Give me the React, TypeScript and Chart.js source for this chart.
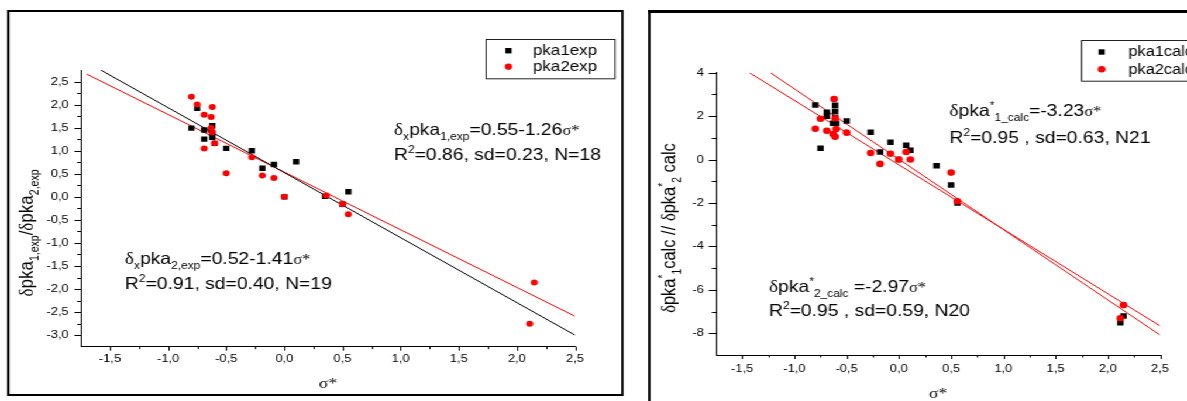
import React, { useEffect, useRef } from 'react';
import { Chart, registerables } from 'chart.js';
Chart.register(...registerables);

const SX = 1.17; // horizontal stretch of the original figure
const PAGE_W = 1187;
const PAGE_H = 401;
const LW = PAGE_W / SX;
const SPLIT = 545;
const RIGHT_W = 470;

// ---------- left panel: experimental ----------
const sigma1Exp = [-0.80, -0.75, -0.69, -0.69, -0.62, -0.62, -0.62, -0.60, -0.50, -0.28, -0.19, -0.09, 0.10, 0.35, 0.55, 0.00, 0.50, -0.63];
const pka1Exp = [1.49, 1.92, 1.45, 1.25, 1.54, 1.38, 1.29, 1.16, 1.05, 1.00, 0.62, 0.70, 0.76, 0.01, 0.11, 0.00, -0.16, 1.45];
const sigma2Exp = [-0.80, -0.75, -0.62, -0.69, -0.63, -0.63, -0.62, -0.60, -0.69, -0.28, -0.50, -0.19, -0.09, 0.00, 0.36, 0.50, 0.55, 2.11, 2.15];
const pka2Exp = [2.17, 2.00, 1.95, 1.78, 1.73, 1.49, 1.40, 1.16, 1.05, 0.86, 0.51, 0.46, 0.41, 0.00, 0.03, -0.16, -0.38, -2.75, -1.86];
const fitExpBlackX = [-1.58, 2.5];
const fitExpBlackY = [2.75, -3.0];
const fitExpRedX = [-1.70, 2.5];
const fitExpRedY = [2.66, -2.59];
const expXTicks = [-1.5, -1.0, -0.5, 0.0, 0.5, 1.0, 1.5, 2.0, 2.5];
const expXMinor = [-1.25, -0.75, -0.25, 0.25, 0.75, 1.25, 1.75, 2.25];
const expYTicks = [2.5, 2.0, 1.5, 1.0, 0.5, 0.0, -0.5, -1.0, -1.5, -2.0, -2.5, -3.0];
const expYMinor = [2.25, 1.75, 1.25, 0.75, 0.25, -0.25, -0.75, -1.25, -1.75, -2.25, -2.75];

// ---------- right panel: calculated ----------
const sigma1Calc = [-0.80, -0.61, -0.61, -0.69, -0.69, -0.61, -0.60, -0.63, -0.50, -0.75, -0.27, -0.18, -0.08, 0.07, 0.11, 0.00, 0.36, 0.50, 0.56, 2.12, 2.15];
const pka1Calc = [2.51, 2.50, 2.22, 2.18, 2.00, 1.95, 1.67, 1.67, 1.78, 0.52, 1.26, 0.35, 0.80, 0.66, 0.43, 0.00, -0.28, -1.17, -2.00, -7.51, -7.20];
const sigma2Calc = [-0.62, -0.75, -0.61, -0.80, -0.69, -0.60, -0.63, -0.61, -0.50, -0.27, -0.18, -0.08, 0.00, 0.07, 0.11, 0.50, 0.56, 2.12, 2.15];
const pka2Calc = [2.79, 1.88, 1.90, 1.42, 1.33, 1.41, 1.18, 1.05, 1.24, 0.30, -0.20, 0.27, 0.00, 0.35, 0.00, -0.60, -1.92, -7.31, -6.70];
const fitCalcAX = [-1.43, 2.5];
const fitCalcAY = [4.0, -7.66];
const fitCalcBX = [-1.23, 2.5];
const fitCalcBY = [4.0, -8.08];
const calcXTicks = [-1.5, -1.0, -0.5, 0.0, 0.5, 1.0, 1.5, 2.0, 2.5];
const calcXMinor = [-1.25, -0.75, -0.25, 0.25, 0.75, 1.25, 1.75, 2.25];
const calcYTicks = [4, 2, 0, -2, -4, -6, -8];
const calcYMinor = [3, 1, -1, -3, -5, -7];

const FONT_SANS = '"Liberation Sans", Arial, Helvetica, sans-serif';
const FONT_SERIF = '"Liberation Serif", "Times New Roman", serif';

type Seg = { t: string; k?: 'sub' | 'sup'; serif?: boolean; small?: boolean };

function segFont(s: Seg, base: number) {
  const size = base * (s.k ? 0.62 : 1) * (s.small ? 0.85 : 1);
  return `${size}px ${s.serif ? FONT_SERIF : FONT_SANS}`;
}
function measureRich(ctx: CanvasRenderingContext2D, segs: Seg[], base: number) {
  let w = 0;
  for (const s of segs) {
    ctx.font = segFont(s, base);
    w += ctx.measureText(s.t).width;
  }
  return w;
}
function drawRich(ctx: CanvasRenderingContext2D, x: number, y: number, segs: Seg[], base: number) {
  ctx.fillStyle = '#000';
  ctx.textBaseline = 'alphabetic';
  ctx.textAlign = 'left';
  let cx = x;
  for (const s of segs) {
    ctx.font = segFont(s, base);
    const dy = s.k === 'sub' ? base * 0.3 : s.k === 'sup' ? -base * 0.42 : 0;
    ctx.fillText(s.t, cx, y + dy);
    cx += ctx.measureText(s.t).width;
  }
}

const pts = (xs: number[], ys: number[]) => xs.map((x, i) => ({ x, y: ys[i] }));
const fmtComma = (v: number) => v.toFixed(1).replace('.', ',');
const fmtInt = (v: number) => String(Math.round(v));

interface LegendItem { label: string; y: number; style: 'rect' | 'circle'; color: string; size: number }
interface PanelCfg {
  xMinor: number[];
  yMinor: number[];
  xMajorLen: number; xMinorLen: number; yMajorLen: number; yMinorLen: number;
  yTitle: Seg[]; yTitleSize: number; yTitleX: number; yTitleY: number;
  xTitleY: number;
  notes: { x: number; y: number; segs: Seg[]; size: number }[];
  legendBox: [number, number, number, number];
  legendMarkerX: number; legendTextX: number; legendFont: number;
  legendItems: LegendItem[];
}

function panelPlugin(cfg: PanelCfg) {
  return {
    id: 'panelDecor',
    afterDraw(chart: any) {
      const ctx: CanvasRenderingContext2D = chart.ctx;
      const a = chart.chartArea;
      const xs = chart.scales.x;
      const ys = chart.scales.y;
      ctx.save();
      // tick marks
      ctx.strokeStyle = '#000';
      ctx.lineWidth = 1;
      ctx.beginPath();
      const xMaj = xs.ticks.map((t: any) => t.value);
      const yMaj = ys.ticks.map((t: any) => t.value);
      for (const v of xMaj) {
        const p = Math.round(xs.getPixelForValue(v)) + 0.5;
        ctx.moveTo(p, a.bottom); ctx.lineTo(p, a.bottom + cfg.xMajorLen);
      }
      for (const v of cfg.xMinor) {
        const p = Math.round(xs.getPixelForValue(v)) + 0.5;
        ctx.moveTo(p, a.bottom); ctx.lineTo(p, a.bottom + cfg.xMinorLen);
      }
      for (const v of yMaj) {
        const p = Math.round(ys.getPixelForValue(v)) + 0.5;
        ctx.moveTo(a.left, p); ctx.lineTo(a.left - cfg.yMajorLen, p);
      }
      for (const v of cfg.yMinor) {
        const p = Math.round(ys.getPixelForValue(v)) + 0.5;
        ctx.moveTo(a.left, p); ctx.lineTo(a.left - cfg.yMinorLen, p);
      }
      ctx.stroke();

      // x title
      const xt: Seg[] = [{ t: 'σ*', serif: true }];
      const xw = measureRich(ctx, xt, 15);
      drawRich(ctx, (a.left + a.right) / 2 - xw / 2, cfg.xTitleY, xt, 15);

      // y title (rotated)
      ctx.save();
      ctx.translate(cfg.yTitleX, cfg.yTitleY);
      ctx.rotate(-Math.PI / 2);
      const yw = measureRich(ctx, cfg.yTitle, cfg.yTitleSize);
      drawRich(ctx, -yw / 2, cfg.yTitleSize * 0.36, cfg.yTitle, cfg.yTitleSize);
      ctx.restore();

      // annotations
      for (const n of cfg.notes) drawRich(ctx, n.x, n.y, n.segs, n.size);

      // legend
      const [bx, by, bw, bh] = cfg.legendBox;
      ctx.strokeStyle = '#222';
      ctx.lineWidth = 1;
      ctx.strokeRect(Math.round(bx) + 0.5, Math.round(by) + 0.5, bw, bh);
      for (const it of cfg.legendItems) {
        ctx.fillStyle = it.color;
        if (it.style === 'rect') {
          ctx.fillRect(cfg.legendMarkerX - it.size / 2, it.y - it.size / 2, it.size, it.size);
        } else {
          ctx.beginPath();
          ctx.arc(cfg.legendMarkerX, it.y, it.size, 0, Math.PI * 2);
          ctx.fill();
        }
        ctx.fillStyle = '#000';
        ctx.font = `${cfg.legendFont}px ${FONT_SANS}`;
        ctx.textBaseline = 'middle';
        ctx.textAlign = 'left';
        ctx.fillText(it.label, cfg.legendTextX, it.y + 0.5);
      }
      ctx.restore();
    },
  };
}

function scaleOpts(min: number, max: number, ticks: number[], fmt: (v: number) => string, pad: number, isX: boolean) {
  return {
    type: 'linear' as const,
    min,
    max,
    afterBuildTicks: (s: any) => { s.ticks = ticks.map((v) => ({ value: v })); },
    afterFit: (s: any) => { if (isX) s.height = 30; else s.width = 45; },
    grid: { display: false, drawTicks: false },
    border: { display: true, color: '#000', width: 1 },
    ticks: {
      padding: pad,
      color: '#000',
      autoSkip: false,
      maxRotation: 0,
      minRotation: 0,
      font: { family: FONT_SANS, size: 11 },
      callback: (v: any) => fmt(Number(v)),
    },
  };
}

function makeConfig(opts: {
  d1: { x: number; y: number }[]; d2: { x: number; y: number }[];
  l1: { x: number; y: number }[]; l2: { x: number; y: number }[];
  l1Color: string; l2Color: string;
  sq: number; ci: number;
  xMin: number; xMax: number; yMin: number; yMax: number;
  xTicks: number[]; yTicks: number[]; xFmt: (v: number) => string; yFmt: (v: number) => string;
  xPad: number; yPad: number;
  padding: { left: number; right: number; top: number; bottom: number };
  label1: string; label2: string;
  cfg: PanelCfg;
}): any {
  return {
    type: 'scatter',
    data: {
      datasets: [
        { label: opts.label1, data: opts.d1, pointStyle: 'rect', pointRadius: opts.sq, backgroundColor: '#000', borderColor: '#000', borderWidth: 0, order: 2 },
        { label: opts.label2, data: opts.d2, pointStyle: 'circle', pointRadius: opts.ci, backgroundColor: '#ff0000', borderColor: '#ff0000', borderWidth: 0, order: 1 },
        { label: 'fit a', data: opts.l1, showLine: true, pointRadius: 0, borderColor: opts.l1Color, borderWidth: 1, order: 3 },
        { label: 'fit b', data: opts.l2, showLine: true, pointRadius: 0, borderColor: opts.l2Color, borderWidth: 1, order: 3 },
      ],
    },
    options: {
      animation: false,
      responsive: false,
      devicePixelRatio: 1,
      events: [],
      layout: { padding: opts.padding },
      plugins: { legend: { display: false }, tooltip: { enabled: false }, title: { display: false } },
      scales: {
        x: scaleOpts(opts.xMin, opts.xMax, opts.xTicks, opts.xFmt, opts.xPad, true),
        y: scaleOpts(opts.yMin, opts.yMax, opts.yTicks, opts.yFmt, opts.yPad, false),
      },
    },
    plugins: [panelPlugin(opts.cfg)],
  };
}

const X0 = SPLIT; // offset of right canvas in logical coords

const leftCfg: PanelCfg = {
  xMinor: expXMinor, yMinor: expYMinor,
  xMajorLen: 4, xMinorLen: 2.5, yMajorLen: 5.5, yMinorLen: 3.2,
  yTitle: [
    { t: 'δ', serif: true }, { t: 'pka' }, { t: '1,exp', k: 'sub' }, { t: '/' },
    { t: 'δ', serif: true }, { t: 'pka' }, { t: '2,exp', k: 'sub' },
  ],
  yTitleSize: 17, yTitleX: 22, yTitleY: 233,
  xTitleY: 388,
  notes: [
    { x: 336.8, y: 135, size: 16.5, segs: [{ t: 'δ', serif: true }, { t: 'x', k: 'sub' }, { t: 'pka' }, { t: '1,exp', k: 'sub' }, { t: '=0.55-1.26' }, { t: 'σ*', serif: true, small: true }] },
    { x: 336.8, y: 160, size: 16.5, segs: [{ t: 'R' }, { t: '2', k: 'sup' }, { t: '=0.86, sd=0.23, N=18' }] },
    { x: 106.8, y: 264, size: 16.5, segs: [{ t: 'δ', serif: true }, { t: 'x', k: 'sub' }, { t: 'pka' }, { t: '2,exp', k: 'sub' }, { t: '=0.52-1.41' }, { t: 'σ*', serif: true, small: true }] },
    { x: 106.8, y: 289, size: 16.5, segs: [{ t: 'R' }, { t: '2', k: 'sup' }, { t: '=0.91, sd=0.40, N=19' }] },
  ],
  legendBox: [415.4, 39, 110.2, 39.3],
  legendMarkerX: 434.6, legendTextX: 455.5, legendFont: 14.5,
  legendItems: [
    { label: 'pka1exp', y: 50.7, style: 'rect', color: '#000', size: 5.4 },
    { label: 'pka2exp', y: 66.7, style: 'circle', color: '#ff0000', size: 3.1 },
  ],
};

const rightCfg: PanelCfg = {
  xMinor: calcXMinor, yMinor: calcYMinor,
  xMajorLen: 4, xMinorLen: 2.5, yMajorLen: 6.3, yMinorLen: 3.6,
  yTitle: [
    { t: 'δ', serif: true }, { t: 'pka' }, { t: '*', k: 'sup' }, { t: '1', k: 'sub' }, { t: 'calc // ' },
    { t: 'δ', serif: true }, { t: 'pka' }, { t: '*', k: 'sup' }, { t: '2', k: 'sub' }, { t: ' calc' },
  ],
  yTitleSize: 16.5, yTitleX: 570.9 - X0, yTitleY: 228,
  xTitleY: 398,
  notes: [
    { x: 811.6 - X0, y: 116, size: 16.5, segs: [{ t: 'δ', serif: true }, { t: 'pka' }, { t: '*', k: 'sup' }, { t: '1_calc', k: 'sub' }, { t: '=-3.23' }, { t: 'σ*', serif: true, small: true }] },
    { x: 811.6 - X0, y: 143, size: 16.5, segs: [{ t: 'R' }, { t: '2', k: 'sup' }, { t: '=0.95 , sd=0.63, N21' }] },
    { x: 657.3 - X0, y: 292, size: 16.5, segs: [{ t: 'δ', serif: true }, { t: 'pka' }, { t: '*', k: 'sup' }, { t: '2_calc', k: 'sub' }, { t: ' =-2.97' }, { t: 'σ*', serif: true, small: true }] },
    { x: 657.3 - X0, y: 316, size: 16.5, segs: [{ t: 'R' }, { t: '2', k: 'sup' }, { t: '=0.95 , sd=0.59, N20' }] },
  ],
  legendBox: [923.7 - X0, 40, 140, 40.7],
  legendMarkerX: 941.6 - X0, legendTextX: 964.4 - X0, legendFont: 14,
  legendItems: [
    { label: 'pka1calc', y: 52, style: 'rect', color: '#000', size: 5.4 },
    { label: 'pka2calc', y: 69.3, style: 'circle', color: '#ff0000', size: 3.3 },
  ],
};

export default function App() {
  const leftRef = useRef<HTMLCanvasElement>(null);
  const rightRef = useRef<HTMLCanvasElement>(null);

  useEffect(() => {
    const charts: Chart[] = [];
    if (leftRef.current) {
      charts.push(new Chart(leftRef.current, makeConfig({
        d1: pts(sigma1Exp, pka1Exp), d2: pts(sigma2Exp, pka2Exp),
        l1: pts(fitExpBlackX, fitExpBlackY), l2: pts(fitExpRedX, fitExpRedY),
        l1Color: '#000', l2Color: '#ff0000',
        sq: 3.8, ci: 3.0,
        xMin: -1.75, xMax: 2.5, yMin: -3.25, yMax: 2.75,
        xTicks: expXTicks, yTicks: expYTicks, xFmt: fmtComma, yFmt: fmtComma,
        xPad: 6, yPad: 10.5,
        padding: { left: 69.2 - 45, right: SPLIT - 491.5, top: 70, bottom: PAGE_H - 346.7 - 30 },
        label1: 'pka1exp', label2: 'pka2exp',
        cfg: leftCfg,
      })));
    }
    if (rightRef.current) {
      charts.push(new Chart(rightRef.current, makeConfig({
        d1: pts(sigma1Calc, pka1Calc), d2: pts(sigma2Calc, pka2Calc),
        l1: pts(fitCalcAX, fitCalcAY), l2: pts(fitCalcBX, fitCalcBY),
        l1Color: '#ff0000', l2Color: '#ff0000',
        sq: 3.9, ci: 3.3,
        xMin: -1.75, xMax: 2.5, yMin: -9, yMax: 4,
        xTicks: calcXTicks, yTicks: calcYTicks, xFmt: fmtComma, yFmt: fmtInt,
        xPad: 7, yPad: 10.5,
        padding: { left: (612.0 - X0) - 45, right: RIGHT_W - (991.5 - X0), top: 72.7, bottom: PAGE_H - 355 - 30 },
        label1: 'pka1calc', label2: 'pka2calc',
        cfg: rightCfg,
      })));
    }
    return () => charts.forEach((c) => c.destroy());
  }, []);

  return (
    <div style={{ position: 'fixed', left: 0, top: 0, width: PAGE_W, height: PAGE_H, overflow: 'hidden', background: '#fff' }}>
      <div style={{ position: 'absolute', left: 0, top: 0, width: LW, height: PAGE_H, transform: `scaleX(${SX})`, transformOrigin: '0 0' }}>
        <div style={{ position: 'absolute', left: 6, top: 10, width: 526.5, height: 386, border: '2px solid #000', boxSizing: 'border-box' }} />
        <div style={{ position: 'absolute', left: 553.8, top: 10, width: 520, height: 430, borderLeft: '2.5px solid #000', borderTop: '3px solid #000', boxSizing: 'border-box' }} />
        <canvas ref={leftRef} width={SPLIT} height={PAGE_H} style={{ position: 'absolute', left: 0, top: 0, width: SPLIT, height: PAGE_H }} />
        <canvas ref={rightRef} width={RIGHT_W} height={PAGE_H} style={{ position: 'absolute', left: SPLIT, top: 0, width: RIGHT_W, height: PAGE_H }} />
      </div>
    </div>
  );
}
